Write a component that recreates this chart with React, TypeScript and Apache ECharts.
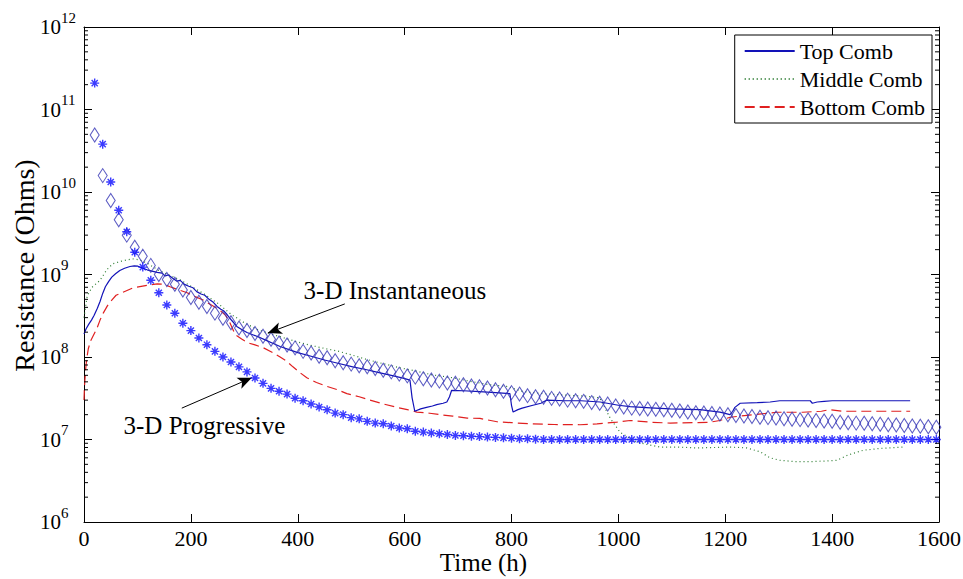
import { useEffect, useRef } from 'react';
import * as echarts from 'echarts';

const FONT = 'Liberation Serif';

// Marker times (h) shared by the two 3-D model series
const markerTimes = [
  20, 35, 50, 65, 80, 95, 110, 125, 140, 155, 170, 185, 200, 215, 230, 245, 260, 275, 290, 305,
  320, 335, 350, 365, 380, 395, 410, 425, 440, 455, 470, 485, 500, 515, 530, 545, 560, 575, 590, 605,
  620, 635, 650, 665, 680, 695, 710, 725, 740, 755, 770, 785, 800, 815, 830, 845, 860, 875, 890, 905,
  920, 935, 950, 965, 980, 995, 1010, 1025, 1040, 1055, 1070, 1085, 1100, 1115, 1130, 1145, 1160, 1175, 1190, 1205,
  1220, 1235, 1250, 1265, 1280, 1295, 1310, 1325, 1340, 1355, 1370, 1385, 1400, 1415, 1430, 1445, 1460, 1475, 1490, 1505,
  1520, 1535, 1550, 1565, 1580, 1595,
];

// 3-D Progressive (asterisks), Ohms
const progressiveValues = [
  2.09e11, 3.8e10, 1.32e10, 6.0e9, 3.3e9, 1.86e9, 1.23e9, 8.5e8, 6.0e8, 4.27e8,
  3.39e8, 2.57e8, 2.09e8, 1.7e8, 1.41e8, 1.17e8, 1.0e8, 8.7e7, 7.6e7, 6.6e7,
  5.56e7, 4.79e7, 4.17e7, 3.85e7, 3.55e7, 3.16e7, 2.95e7, 2.69e7, 2.48e7, 2.29e7,
  2.09e7, 2.0e7, 1.84e7, 1.78e7, 1.66e7, 1.58e7, 1.55e7, 1.46e7, 1.38e7, 1.35e7,
  1.26e7, 1.23e7, 1.2e7, 1.175e7, 1.15e7, 1.12e7, 1.11e7, 1.096e7, 1.084e7, 1.07e7,
  1.06e7, 1.047e7, 1.035e7, 1.023e7, 1.02e7, 1.01e7, 1.0e7, 1.0e7, 1.0e7, 1.0e7,
  1.0e7, 1.0e7, 1.0e7, 1.0e7, 1.0e7, 1.0e7, 1.0e7, 1.0e7, 1.0e7, 1.0e7,
  1.0e7, 1.0e7, 1.0e7, 1.0e7, 1.0e7, 1.0e7, 1.0e7, 1.0e7, 1.0e7, 1.0e7,
  1.0e7, 1.0e7, 1.0e7, 1.0e7, 1.0e7, 1.0e7, 1.0e7, 1.0e7, 1.0e7, 1.0e7,
  1.0e7, 1.0e7, 1.0e7, 1.0e7, 1.0e7, 1.0e7, 1.0e7, 1.0e7, 1.0e7, 1.0e7,
  1.0e7, 1.0e7, 1.0e7, 1.0e7, 1.0e7, 1.0e7,
];

// 3-D Instantaneous (diamonds), Ohms
const instantaneousValues = [
  4.9e10, 1.58e10, 7.9e9, 4.6e9, 3.0e9, 2.14e9, 1.66e9, 1.29e9, 1.0e9, 8.7e8,
  7.6e8, 6.5e8, 5.25e8, 4.6e8, 4.1e8, 3.4e8, 2.95e8, 2.6e8, 2.24e8, 2.09e8,
  1.93e8, 1.78e8, 1.64e8, 1.48e8, 1.4e8, 1.29e8, 1.17e8, 1.12e8, 1.02e8, 9.8e7,
  9.0e7, 8.5e7, 8.2e7, 7.85e7, 7.6e7, 7.25e7, 6.9e7, 6.6e7, 6.2e7, 5.9e7,
  5.7e7, 5.45e7, 5.25e7, 5.1e7, 4.85e7, 4.8e7, 4.6e7, 4.45e7, 4.35e7, 4.2e7,
  4.0e7, 3.85e7, 3.7e7, 3.55e7, 3.4e7, 3.3e7, 3.25e7, 3.15e7, 3.1e7, 3.0e7,
  2.95e7, 2.9e7, 2.8e7, 2.75e7, 2.7e7, 2.55e7, 2.48e7, 2.4e7, 2.37e7, 2.34e7,
  2.32e7, 2.29e7, 2.26e7, 2.21e7, 2.16e7, 2.11e7, 2.09e7, 2.07e7, 2.04e7, 2.0e7,
  1.95e7, 1.93e7, 1.9e7, 1.86e7, 1.84e7, 1.82e7, 1.78e7, 1.76e7, 1.74e7, 1.72e7,
  1.7e7, 1.68e7, 1.66e7, 1.62e7, 1.6e7, 1.58e7, 1.57e7, 1.55e7, 1.53e7, 1.51e7,
  1.5e7, 1.48e7, 1.46e7, 1.45e7, 1.43e7, 1.41e7,
];

// Measured combs: [time h, resistance Ohms]
const topComb = [
  [0, 1.9e8], [4, 2.2e8], [9, 2.5e8], [14, 2.8e8], [19, 3.2e8], [25, 3.9e8], [30, 4.7e8], [35, 5.9e8],
  [40, 7.1e8], [46, 8.2e8], [52, 9.3e8], [59, 1.02e9], [67, 1.12e9], [76, 1.19e9], [86, 1.25e9], [94, 1.27e9],
  [101, 1.26e9], [109, 1.2e9], [118, 1.14e9], [127, 1.1e9], [137, 1.06e9], [146, 1.04e9], [152, 9.6e8], [158, 9.9e8],
  [166, 9.0e8], [174, 8.3e8], [180, 8.5e8], [188, 7.6e8], [196, 7.2e8], [204, 6.9e8], [211, 6.2e8], [219, 5.8e8],
  [226, 5.6e8], [234, 5.0e8], [242, 4.6e8], [249, 4.1e8], [256, 3.8e8], [262, 3.6e8], [268, 3.25e8], [277, 2.75e8],
  [286, 2.35e8], [295, 2.15e8], [305, 1.98e8], [317, 1.85e8], [329, 1.72e8], [340, 1.6e8], [352, 1.48e8], [367, 1.34e8],
  [385, 1.22e8], [400, 1.13e8], [425, 1.02e8], [450, 9.2e7], [475, 8.4e7], [503, 7.6e7], [525, 7.1e7], [550, 6.5e7],
  [575, 6.0e7], [597, 5.55e7], [610, 5.25e7], [614, 3.2e7], [619, 2.2e7], [630, 2.35e7], [641, 2.45e7], [652, 2.55e7],
  [660, 2.65e7], [672, 2.75e7], [679, 2.85e7], [684, 3.3e7], [688, 3.95e7], [710, 3.9e7], [740, 3.8e7], [770, 3.7e7],
  [797, 3.6e7], [800, 2.6e7], [803, 2.15e7], [812, 2.3e7], [820, 2.4e7], [840, 2.6e7], [855, 2.75e7], [866, 3.0e7],
  [900, 2.95e7], [930, 2.95e7], [966, 2.85e7], [1000, 2.6e7], [1022, 2.5e7], [1060, 2.42e7], [1097, 2.35e7], [1153, 2.3e7],
  [1190, 2.15e7], [1209, 2.0e7], [1214, 2.2e7], [1218, 2.45e7], [1228, 2.75e7], [1260, 2.8e7], [1284, 2.85e7], [1302, 2.95e7],
  [1340, 2.95e7], [1359, 2.95e7], [1363, 2.75e7], [1372, 2.85e7], [1385, 2.9e7], [1400, 2.95e7], [1450, 2.95e7], [1500, 2.95e7],
  [1546, 2.95e7],
];

const middleComb = [
  [0, 3.0e8], [6, 5.5e8], [15, 7.0e8], [30, 8.5e8], [43, 1.15e9], [54, 1.35e9], [70, 1.45e9], [90, 1.55e9],
  [105, 1.5e9], [120, 1.35e9], [140, 1.12e9], [160, 9.8e8], [180, 8.6e8], [200, 7.2e8], [225, 5.8e8], [250, 4.5e8],
  [275, 3.3e8], [300, 2.6e8], [325, 2.15e8], [350, 1.9e8], [375, 1.7e8], [400, 1.52e8], [425, 1.38e8], [450, 1.27e8],
  [475, 1.18e8], [503, 1.05e8], [530, 9.3e7], [560, 8.3e7], [591, 7.4e7], [620, 6.8e7], [650, 6.1e7], [690, 5.6e7],
  [728, 5.0e7], [760, 4.6e7], [791, 4.4e7], [822, 3.8e7], [860, 3.6e7], [900, 3.45e7], [940, 3.35e7], [965, 3.2e7],
  [985, 1.8e7], [1003, 1.23e7], [1030, 9.5e6], [1050, 8.8e6], [1078, 8.1e6], [1110, 8.1e6], [1147, 7.9e6], [1180, 8.0e6],
  [1210, 8.1e6], [1240, 7.9e6], [1265, 7.1e6], [1284, 6.0e6], [1302, 5.6e6], [1330, 5.4e6], [1364, 5.4e6], [1390, 5.5e6],
  [1409, 5.6e6], [1430, 6.5e6], [1458, 7.4e6], [1490, 7.8e6], [1532, 8.1e6],
];

const bottomComb = [
  [0, 3.0e7], [1, 4.5e7], [3, 7.0e7], [5, 9.5e7], [8, 1.25e8], [12, 1.55e8], [17, 1.8e8], [24, 2.2e8],
  [30, 2.8e8], [36, 3.4e8], [44, 4.2e8], [52, 4.9e8], [60, 5.6e8], [73, 6.1e8], [92, 6.9e8], [118, 7.4e8],
  [137, 7.7e8], [150, 7.6e8], [161, 7.1e8], [175, 6.6e8], [193, 6.0e8], [208, 5.4e8], [223, 4.9e8], [240, 4.2e8],
  [254, 3.7e8], [265, 3.2e8], [273, 2.6e8], [283, 1.86e8], [295, 1.65e8], [305, 1.5e8], [320, 1.4e8], [335, 1.3e8],
  [350, 1.16e8], [367, 1.0e8], [380, 8.8e7], [391, 7.6e7], [405, 6.4e7], [417, 5.6e7], [435, 4.9e7], [455, 4.4e7],
  [475, 4.0e7], [492, 3.6e7], [515, 3.3e7], [535, 3.0e7], [560, 2.7e7], [586, 2.45e7], [605, 2.3e7], [623, 2.15e7],
  [647, 2.08e7], [666, 2.0e7], [690, 1.92e7], [717, 1.82e7], [741, 1.8e7], [773, 1.64e7], [800, 1.6e7], [835, 1.55e7],
  [880, 1.52e7], [928, 1.51e7], [960, 1.55e7], [997, 1.62e7], [1022, 1.7e7], [1060, 1.62e7], [1097, 1.58e7], [1140, 1.6e7],
  [1171, 1.62e7], [1190, 1.7e7], [1209, 1.86e7], [1252, 2.0e7], [1297, 2.14e7], [1345, 2.14e7], [1380, 2.2e7], [1395, 2.3e7],
  [1420, 2.2e7], [1480, 2.2e7], [1546, 2.2e7],
];

// Log-axis minor ticks: mantissas within each decade
const minorMantissas = [2, 3, 4, 5, 6, 7, 8, 9];
const minorDecades = [1e6, 1e7, 1e8, 1e9, 1e10, 1e11];

// Annotation text and arrows, in data coordinates
const annotationTexts = [
  { text: '3-D Instantaneous', at: [410, 6.4e8] },
  { text: '3-D Progressive', at: [73, 1.47e7] },
];
const annotationArrows = [
  { from: [488, 4.4e8], to: [344, 1.95e8] },
  { from: [183, 2.4e7], to: [314, 5.6e7] },
];

const ASTERISK = 'path://M5,0L5,10M0,5L10,5M1.6,1.6L8.4,8.4M1.6,8.4L8.4,1.6';

export default function App() {
  const ref = useRef<HTMLDivElement>(null);

  useEffect(() => {
    document.body.style.margin = '0';
    const chart = echarts.init(ref.current!, null, { renderer: 'svg' });

    const minorTicks: number[][] = [];
    minorDecades.forEach((d) => minorMantissas.forEach((m) => minorTicks.push([0, m * d])));

    const axisLineStyle = { show: true, onZero: false, lineStyle: { color: '#000', width: 1 } };
    const tickStyle = { show: true, inside: true, length: 8, lineStyle: { color: '#000', width: 1 } };

    const option: any = {
      animation: false,
      backgroundColor: '#fff',
      grid: { left: 84, right: 24, top: 27, bottom: 57, containLabel: false, outerBoundsMode: 'none' },
      legend: {
        data: ['Top Comb', 'Middle Comb', 'Bottom Comb'],
        orient: 'vertical',
        right: 31,
        top: 35,
        backgroundColor: '#fff',
        borderColor: '#000',
        borderWidth: 1,
        borderRadius: 0,
        padding: [5, 7, 5, 9],
        itemWidth: 50,
        itemHeight: 14,
        itemGap: 6,
        selectedMode: false,
        itemStyle: { opacity: 0 },
        textStyle: { fontFamily: FONT, fontSize: 22, color: '#000' },
      },
      xAxis: [
        {
          type: 'value', min: 0, max: 1600, interval: 200, position: 'bottom',
          axisLine: axisLineStyle, axisTick: tickStyle, splitLine: { show: false },
          axisLabel: { fontFamily: FONT, fontSize: 22, color: '#000', margin: 5, formatter: (v: number) => String(v) },
          name: 'Time (h)', nameLocation: 'middle', nameGap: 28, nameMoveOverlap: false,
          nameTextStyle: { fontFamily: FONT, fontSize: 25, color: '#000', padding: [0, 56, 0, 0] },
        },
        {
          type: 'value', min: 0, max: 1600, interval: 200, position: 'top',
          axisLine: axisLineStyle, axisTick: tickStyle, splitLine: { show: false },
          axisLabel: { show: false },
        },
      ],
      yAxis: [
        {
          type: 'log', logBase: 10, min: 1e6, max: 1e12, position: 'left',
          axisLine: axisLineStyle, axisTick: tickStyle, splitLine: { show: false },
          axisLabel: {
            align: 'left', margin: 44,
            formatter: (v: number) => `{b|10}{s|${Math.round(Math.log10(v))}}`,
            rich: {
              b: { fontFamily: FONT, fontSize: 21, color: '#000', lineHeight: 34, verticalAlign: 'middle' },
              s: { fontFamily: FONT, fontSize: 15, color: '#000', lineHeight: 15, verticalAlign: 'top' },
            },
          },
          name: 'Resistance (Ohms)', nameLocation: 'middle', nameGap: 46, nameMoveOverlap: false,
          nameTextStyle: { fontFamily: FONT, fontSize: 28, color: '#000', padding: [0, 0, 0, 18] },
        },
        {
          type: 'log', logBase: 10, min: 1e6, max: 1e12, position: 'right',
          axisLine: axisLineStyle, axisTick: tickStyle, splitLine: { show: false },
          axisLabel: { show: false },
        },
      ],
      series: [
        {
          name: 'Top Comb', type: 'line', data: topComb, symbol: 'none', showSymbol: false,
          lineStyle: { color: '#1212b8', width: 1.2 }, itemStyle: { color: '#1212b8' }, z: 3,
        },
        {
          name: 'Middle Comb', type: 'line', data: middleComb, symbol: 'none', showSymbol: false,
          lineStyle: { color: '#2e7d32', width: 1.2, type: [1, 3] }, itemStyle: { color: '#2e7d32' }, z: 2,
        },
        {
          name: 'Bottom Comb', type: 'line', data: bottomComb, symbol: 'none', showSymbol: false,
          lineStyle: { color: '#e02020', width: 1.2, type: [10, 5] }, itemStyle: { color: '#e02020' }, z: 2,
        },
        {
          name: '3-D Instantaneous', type: 'scatter',
          data: markerTimes.map((t, i) => [t, instantaneousValues[i]]),
          symbol: 'diamond', symbolSize: [9, 14],
          itemStyle: { color: 'rgba(255,255,255,0)', borderColor: '#3535b5', borderWidth: 1.1 }, z: 4,
        },
        {
          name: '3-D Progressive', type: 'scatter',
          data: markerTimes.map((t, i) => [t, progressiveValues[i]]),
          symbol: ASTERISK, symbolSize: 9,
          itemStyle: { color: 'rgba(0,0,0,0)', borderColor: '#0a0aff', borderWidth: 1.4 }, z: 5,
          markLine: {
            silent: true, symbol: ['none', 'arrow'], symbolSize: [9, 14], animation: false,
            lineStyle: { color: '#000', width: 1, type: 'solid' }, label: { show: false },
            data: annotationArrows.map((a) => [{ coord: a.from }, { coord: a.to }]),
          },
          markPoint: {
            silent: true, symbol: 'circle', symbolSize: 1, itemStyle: { color: 'rgba(0,0,0,0)' },
            data: annotationTexts.map((a) => ({
              coord: a.at, value: a.text,
              label: {
                show: true, position: 'right', distance: 0, formatter: a.text,
                fontFamily: FONT, fontSize: 25, color: '#000',
              },
            })),
          },
        },
        {
          name: 'minorTicks', type: 'custom', data: minorTicks, silent: true, clip: false, z: 10,
          encode: { x: 0, y: 1 },
          renderItem: (_p: any, api: any) => {
            const v = api.value(1);
            const l = api.coord([0, v]);
            const r = api.coord([1600, v]);
            return {
              type: 'group',
              children: [
                { type: 'line', shape: { x1: l[0], y1: l[1], x2: l[0] + 4, y2: l[1] }, style: { stroke: '#000', lineWidth: 1 } },
                { type: 'line', shape: { x1: r[0] - 4, y1: r[1], x2: r[0], y2: r[1] }, style: { stroke: '#000', lineWidth: 1 } },
              ],
            };
          },
        },
      ],
    };

    chart.setOption(option);
    return () => chart.dispose();
  }, []);

  return <div ref={ref} style={{ width: 963, height: 579, background: '#fff' }} />;
}
